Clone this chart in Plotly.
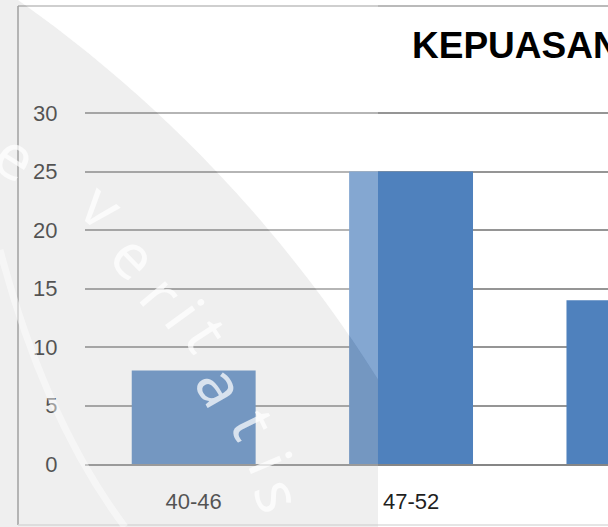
import numpy as np
import plotly.graph_objects as go

# ---- data ----
categories = ["40-46", "47-52", "53-58"]
values = [8, 25, 14]
y_ticks = [0, 5, 10, 15, 20, 25, 30]
title_text = "KEPUASAN"

# ---- canvas helpers (pixel -> paper fraction, margins are zero) ----
W, H = 608, 527


def px(x):
    return x / W


def py(y):
    return 1 - y / H


Y_MAX = 30.3
PX_PER_UNIT = 11.7
PLOT_B = 464
PLOT_T = PLOT_B - Y_MAX * PX_PER_UNIT

fig = go.Figure(
    go.Bar(
        x=categories,
        y=values,
        width=0.57,
        marker=dict(color="#4f81bd", line=dict(width=0)),
        hoverinfo="skip",
    )
)

tick_font = dict(family="Liberation Sans, Arial, sans-serif", size=22, color="#1f1f1f")

fig.update_layout(
    width=W,
    height=H,
    margin=dict(l=0, r=0, t=0, b=0),
    paper_bgcolor="white",
    plot_bgcolor="white",
    showlegend=False,
    xaxis=dict(
        type="category",
        domain=[px(85), 1],
        range=[-0.5, 1.906],
        showgrid=False,
        zeroline=False,
        showline=True,
        linecolor="#868686",
        linewidth=2,
        ticks="outside",
        ticklen=17,
        tickcolor="rgba(0,0,0,0)",
        tickfont=tick_font,
        automargin=False,
        fixedrange=True,
    ),
    yaxis=dict(
        domain=[py(PLOT_B), py(PLOT_T)],
        range=[0, Y_MAX],
        tickvals=y_ticks,
        showgrid=True,
        gridcolor="#959595",
        gridwidth=1.5,
        zeroline=False,
        showline=False,
        ticks="outside",
        ticklen=22,
        tickcolor="rgba(0,0,0,0)",
        tickfont=tick_font,
        automargin=False,
        fixedrange=True,
    ),
)

shapes = []
# chart frame
for (x0, y0, x1, y1, col) in [
    (18, 6, 640, 6, "#a3a3a3"),
    (18, 6, 18, 525, "#8f8f8f"),
    (18, 525, 640, 525, "#dcdcdc"),
]:
    shapes.append(dict(type="line", xref="paper", yref="paper",
                       x0=px(x0), x1=px(x1), y0=py(y0), y1=py(y1),
                       line=dict(color=col, width=1.5), layer="below"))

# ---- watermark (translucent seal over the left part) ----
cx, cy, R = -751.0, 1090.0, 1334.0
WM_R = 378.0
t0 = np.arctan2(0 - cy, np.sqrt(R**2 - cy**2))
y_end = cy - np.sqrt(R**2 - (WM_R - cx) ** 2)
t1 = np.arctan2(y_end - cy, WM_R - cx)
theta = np.linspace(t0, t1, 60)
arc = [(cx + R * np.cos(t), cy + R * np.sin(t)) for t in theta]


def to_path(pts):
    return "M " + " L ".join(f"{px(x):.5f},{py(y):.5f}" for x, y in pts) + " Z"


gray_pts = [(0, 0)] + arc + [(WM_R, H), (0, H)]
white_pts = [arc[0], (WM_R, 0), (WM_R, y_end)] + arc[::-1]

shapes.append(dict(type="path", xref="paper", yref="paper", path=to_path(gray_pts),
                   fillcolor="rgba(202,202,202,0.3)", line=dict(width=0), layer="above"))
shapes.append(dict(type="path", xref="paper", yref="paper", path=to_path(white_pts),
                   fillcolor="rgba(255,255,255,0.3)", line=dict(width=0), layer="above"))
# faint inner ring band of the seal
shapes.append(dict(type="path", xref="paper", yref="paper",
                   path=f"M {px(0)},{py(250)} Q {px(45)},{py(420)} {px(125)},{py(527)}",
                   line=dict(color="rgba(255,255,255,0.45)", width=7), layer="above"))
fig.update_layout(shapes=shapes)

annotations = [
    dict(text=f"<b>{title_text}</b>", xref="paper", yref="paper", x=px(410), y=py(45),
         xanchor="left", yanchor="middle", showarrow=False,
         font=dict(family="Liberation Sans, Arial, sans-serif", size=37, color="#000000")),
]

wm_letters = [
    ("e", 16, 155, 32), ("v", 103, 205, 40), ("e", 135, 255, 46), ("r", 163, 293, 50),
    ("i", 186, 313, 54), ("t", 208, 334, 57), ("a", 222, 385, 60), ("t", 255, 423, 64),
    ("i", 272, 462, 67), ("s", 280, 495, 70),
]
for ch, lx, ly, ang in wm_letters:
    annotations.append(dict(text=ch, xref="paper", yref="paper", x=px(lx), y=py(ly),
                            xanchor="center", yanchor="middle", showarrow=False,
                            textangle=ang,
                            font=dict(family="Noto Sans, sans-serif", size=62,
                                      color="rgba(255,255,255,0.72)")))
fig.update_layout(annotations=annotations)

fig.write_html(
    "out.html",
    config={"displayModeBar": False},
    post_script="document.body.style.margin='0';document.body.style.overflow='hidden';",
)
